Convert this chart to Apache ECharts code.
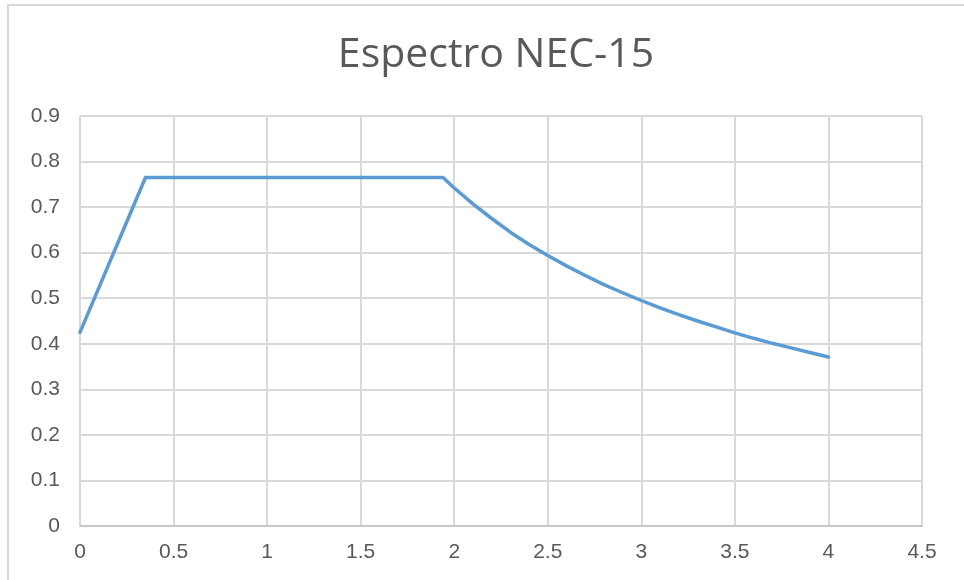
<!DOCTYPE html>
<html>
<head>
<meta charset="utf-8">
<title>Espectro NEC-15</title>
<script src="https://cdn.jsdelivr.net/npm/echarts@6/dist/echarts.min.js"></script>
<style>
  html, body { margin: 0; padding: 0; background: #ffffff; }
  #chart { width: 964px; height: 580px; }
</style>
</head>
<body>
<div id="chart"></div>
<script>
// Elastic design spectrum: period T (s) and spectral acceleration Sa (g)
const periods = [0, 0.35, 1.94, 2.0, 2.1, 2.2, 2.3, 2.4, 2.5, 2.6, 2.7, 2.8, 2.9,
                 3.0, 3.1, 3.2, 3.3, 3.4, 3.5, 3.6, 3.7, 3.8, 3.9, 4.0];
const sa = [0.425, 0.765, 0.765, 0.742, 0.707, 0.675, 0.645, 0.618, 0.594, 0.571, 0.550, 0.530, 0.512,
            0.495, 0.479, 0.464, 0.450, 0.437, 0.424, 0.412, 0.401, 0.391, 0.381, 0.371];

const chartTitle = 'Espectro NEC-15';
const xRange = { min: 0, max: 4.5, step: 0.5 };
const yRange = { min: 0, max: 0.9, step: 0.1 };

const points = periods.map((t, i) => [t, sa[i]]);

const chart = echarts.init(document.getElementById('chart'), null, { renderer: 'canvas' });

const labelStyle = {
  color: '#595959',
  fontSize: 21,
  fontFamily: 'Liberation Sans, Arial, sans-serif'
};

chart.setOption({
  backgroundColor: '#ffffff',
  animation: false,
  graphic: [{
    type: 'rect',
    silent: true,
    shape: { x: 8, y: 5, width: 1100, height: 700 },
    style: { fill: 'none', stroke: '#d9d9d9', lineWidth: 2 }
  }],
  title: {
    text: chartTitle,
    left: 491,
    textAlign: 'center',
    top: 30,
    textStyle: {
      color: '#595959',
      fontSize: 41,
      fontWeight: 'normal',
      fontFamily: 'Open Sans, sans-serif'
    }
  },
  grid: { left: 80, right: 42, top: 116, bottom: 54, containLabel: false },
  xAxis: {
    type: 'value',
    min: xRange.min,
    max: xRange.max,
    interval: xRange.step,
    axisLine: { show: true, lineStyle: { color: '#c8c8c8', width: 2 } },
    axisTick: { show: false },
    axisLabel: Object.assign({ margin: 16 }, labelStyle),
    splitLine: { show: true, lineStyle: { color: '#d9d9d9', width: 2 } }
  },
  yAxis: {
    type: 'value',
    min: yRange.min,
    max: yRange.max,
    interval: yRange.step,
    axisLine: { show: false },
    axisTick: { show: false },
    axisLabel: Object.assign({ margin: 20 }, labelStyle),
    splitLine: { show: true, lineStyle: { color: '#d9d9d9', width: 2 } }
  },
  series: [{
    type: 'line',
    data: points,
    showSymbol: false,
    smooth: false,
    lineStyle: { color: '#5b9bd5', width: 3.5, join: 'round', cap: 'round' }
  }]
});
</script>
</body>
</html>
